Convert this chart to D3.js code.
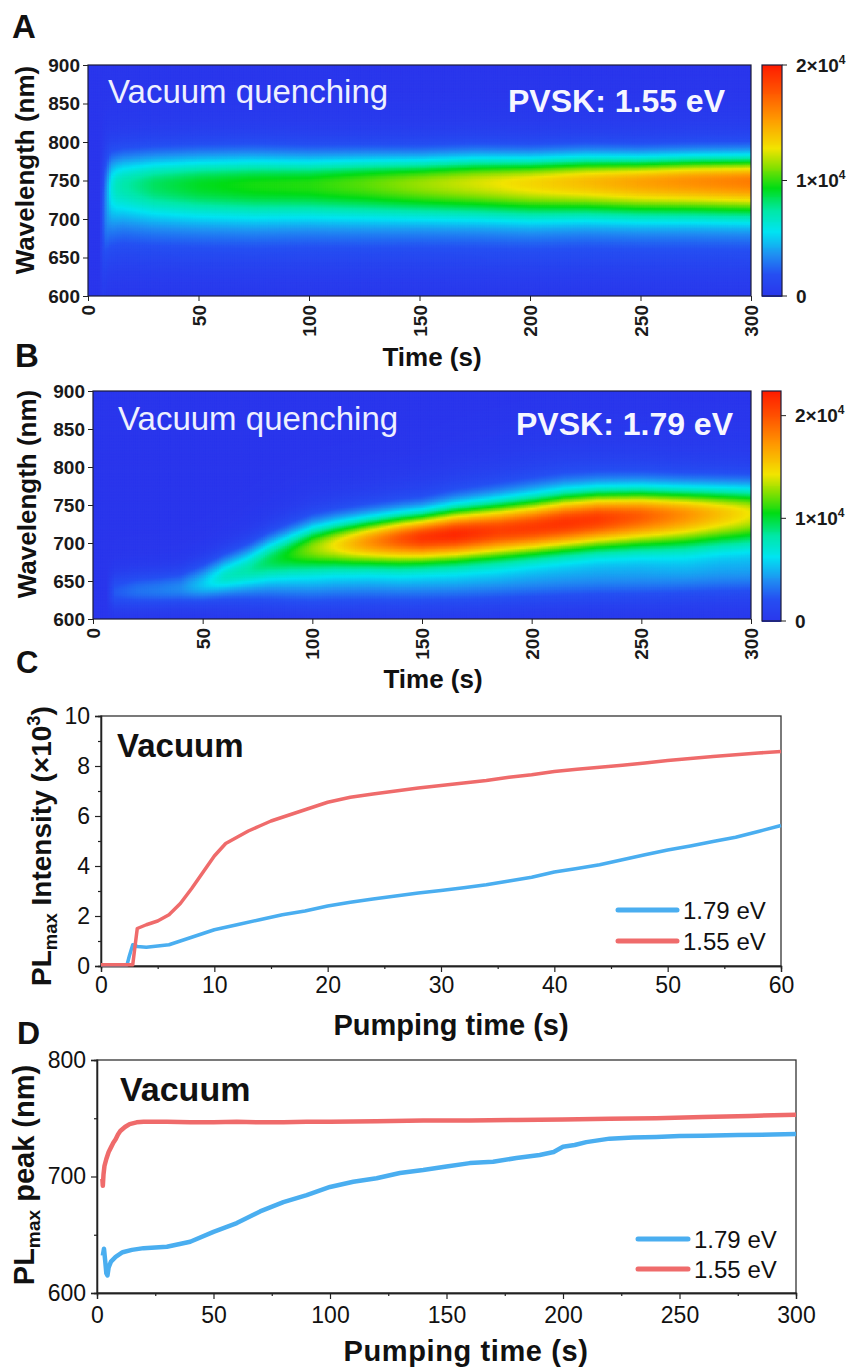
<!DOCTYPE html>
<html><head><meta charset="utf-8">
<script src="https://cdn.jsdelivr.net/npm/d3@7/dist/d3.min.js"></script>
<style>body{margin:0;background:#fff}svg{display:block}</style>
</head><body><svg id="c" width="852" height="1368"></svg>
<script>
// ---------- colour map ----------
const cmapStops  = [0, 0.10, 0.18, 0.28, 0.37, 0.47, 0.56, 0.64, 0.77, 0.88, 1];
const cmapColors = ["#2a36ec","#2550f2","#1f8ff2","#00e4f2","#00e8a8","#00dc14","#86e000","#f2e400","#ff9800","#ff5800","#ff1c00"];
const timeTicks = [0, 50, 100, 150, 200, 250, 300];
const wlTicks = [600, 650, 700, 750, 800, 850, 900];

// ---------- panel A (PVSK 1.55 eV) spectral band parameters vs time ----------
const tA      = [0, 5, 6.5, 8, 9.5, 11, 13, 16, 20, 25, 30, 50, 75, 100, 125, 150, 175, 200, 225, 250, 275, 300];
const peakA   = [720, 720, 725, 735, 742, 744, 745, 746, 746, 746, 746, 746, 746, 746, 747, 747, 748, 748, 749, 749, 750, 750];
const ampA    = [0, 0, 1500, 3200, 4800, 6000, 6700, 7100, 7400, 7800, 8200, 9000, 9500, 9700, 10400, 11300, 12200, 13100, 14000, 14900, 15600, 16200];
const sigLoA  = [70, 70, 70, 55, 42, 38, 36, 35, 35, 35, 35, 35, 35, 34, 34, 33, 33, 33, 32, 32, 32, 32];
const sigHiA  = [40, 40, 40, 34, 30, 28, 27, 27, 27, 27, 27, 27, 27, 26, 25, 24, 24, 23, 23, 22, 22, 22];
const glowNmA = [680, 680, 680, 680, 680, 680, 680, 680, 680, 680, 680, 680, 680, 680, 680, 680, 680, 680, 680, 680, 680, 680];
const glowAmpA= [0, 0, 400, 700, 900, 1000, 1000, 1000, 1000, 1000, 1000, 1000, 1000, 1000, 1000, 1000, 1000, 1000, 1000, 1000, 1000, 1000];

// ---------- panel B (PVSK 1.79 eV) ----------
const tB      = [0, 6, 10, 20, 30, 40, 50, 60, 70, 80, 90, 100, 110, 125, 140, 150, 165, 185, 200, 215, 230, 250, 270, 285, 300];
const peakB   = [635, 635, 636, 638, 639, 641, 647, 658, 668, 679, 687, 694, 698, 702, 706, 708, 712, 717, 721, 727, 732, 736, 738, 739, 740];
const ampB    = [0, 0, 2500, 3200, 3500, 3900, 4800, 6200, 7000, 8800, 10500, 12500, 14300, 17200, 19800, 21200, 21800, 20800, 21000, 21300, 21000, 19500, 17500, 15800, 14200];
const sigLoB  = [14, 14, 14, 14, 14, 14, 15, 16, 18, 20, 22, 24, 24, 24, 25, 25, 26, 27, 27, 28, 29, 31, 33, 33, 34];
const sigHiB  = [16, 16, 16, 16, 16, 16, 17, 18, 19, 20, 21, 22, 22, 22, 22, 22, 24, 26, 27, 27, 26, 25, 24, 24, 24];
const glowNmB = [645, 645, 645, 645, 645, 645, 645, 645, 645, 645, 645, 645, 646, 647, 648, 648, 649, 651, 652, 654, 655, 656, 658, 659, 660];
const glowAmpB= [0, 0, 0, 0, 0, 0, 700, 1500, 2000, 2300, 2500, 2500, 2500, 2500, 2500, 2500, 2500, 2500, 2500, 2500, 2500, 2500, 2500, 2500, 2500];

// ---------- panel C: PLmax intensity (x10^3) vs pumping time (s) ----------
const cBlue = [[0,0.05],[2.3,0.05],[2.5,0.4],[2.8,0.85],[3.2,0.78],[4,0.75],[5,0.8],[6,0.85],[7,1.0],[8,1.15],[9,1.3],[10,1.45],[12,1.65],[14,1.85],[16,2.05],[18,2.2],[20,2.4],[22,2.55],[24,2.68],[26,2.8],[28,2.92],[30,3.02],[32,3.13],[34,3.25],[36,3.4],[38,3.55],[40,3.76],[42,3.9],[44,4.05],[46,4.25],[48,4.45],[50,4.64],[52,4.8],[54,4.98],[56,5.15],[58,5.38],[60,5.62]];
const cRed  = [[0,0.05],[2.8,0.05],[2.95,0.6],[3.2,1.5],[4,1.65],[5,1.8],[6,2.05],[7,2.5],[8,3.1],[9,3.75],[10,4.4],[11,4.9],[12,5.15],[13,5.4],[14,5.6],[15,5.8],[16,5.95],[17,6.1],[18,6.25],[19,6.4],[20,6.55],[22,6.75],[24,6.88],[26,7.0],[28,7.12],[30,7.22],[32,7.32],[34,7.42],[36,7.55],[38,7.65],[40,7.78],[42,7.87],[44,7.95],[46,8.03],[48,8.12],[50,8.22],[52,8.3],[54,8.38],[56,8.45],[58,8.52],[60,8.58]];

// ---------- panel D: PLmax peak (nm) vs pumping time (s) ----------
const dBlue = [[2.5,632],[3,638],[3.5,628],[4,617],[4.5,615],[5,622],[6,627],[8,631],[11,635],[15,637],[20,638.5],[30,639.7],[40,644],[50,652.5],[60,660],[70,670],[80,678],[90,684],[100,691],[110,695.5],[120,698.5],[130,703],[140,705.5],[150,708.5],[160,711.5],[170,712.7],[180,715.8],[190,718.5],[196,721],[200,725.5],[205,727],[210,729.5],[220,732.5],[230,733.5],[240,734],[250,734.7],[260,735],[275,735.6],[290,736],[300,736.5]];
const dRed  = [[2.3,698],[2.5,692],[2.8,702],[3.2,709],[4,715],[5,721],[6,725],[7,729],[8,732],[9,736],[10,739],[12,742.5],[14,745],[17,746.5],[20,747],[30,747],[40,746.5],[50,746.5],[60,747],[70,746.5],[80,746.5],[90,747],[100,747],[120,747.5],[140,748],[160,748],[180,748.5],[200,749],[220,749.5],[240,750],[260,751],[280,752],[300,753]];

const legendLabels = ["1.79 eV", "1.55 eV"];
const lineColors = ["#4aaef0", "#ef6b6b"];

const FONT = '"Liberation Sans", Arial, Helvetica, sans-serif';
const svg = d3.select("#c").attr("font-family", FONT);

function heatPanel(c) {
  const xs = d3.scaleLinear().domain([0, 300]).range([c.x0, c.x1]);
  const ys = d3.scaleLinear().domain([600, 900]).range([c.y1, c.y0]);
  const color = d3.scaleLinear().domain(cmapStops.map(s => s * c.cbMax)).range(cmapColors).clamp(true);
  const f = arr => d3.scaleLinear().domain(c.T).range(arr).clamp(true);
  const fPeak = f(c.peak), fAmp = f(c.amp), fLo = f(c.sLo), fHi = f(c.sHi), fGn = f(c.gNm), fGa = f(c.gAmp);
  const cells = [];
  const dt = 1, dl = 2;
  for (const t of d3.range(0, 300.5, dt)) {
    const pk = fPeak(t), a = fAmp(t), lo = fLo(t), hi = fHi(t), gn = fGn(t), ga = fGa(t);
    for (const lam of d3.range(600, 901, dl)) {
      const d = lam - pk, s = d < 0 ? lo : hi, s2 = 2.2 * s;
      let v = a * (0.88 * Math.exp(-d * d / (2 * s * s)) + 0.12 * Math.exp(-d * d / (2 * s2 * s2)));
      const gd = lam - gn;
      v += ga * Math.exp(-gd * gd / (2 * c.gSig * c.gSig));
      cells.push({t, lam, v});
    }
  }
  const clipId = "clip" + c.id;
  svg.append("clipPath").attr("id", clipId).append("rect")
    .attr("x", c.x0).attr("y", c.y0).attr("width", c.x1 - c.x0).attr("height", c.y1 - c.y0);
  const g = svg.append("g").attr("clip-path", `url(#${clipId})`);
  g.append("rect").attr("x", c.x0).attr("y", c.y0).attr("width", c.x1 - c.x0).attr("height", c.y1 - c.y0).attr("fill", cmapColors[0]);
  g.selectAll("rect.cell").data(cells).join("rect").attr("class", "cell")
    .attr("x", d => xs(d.t - dt / 2)).attr("width", d => xs(d.t + dt / 2) - xs(d.t - dt / 2) + 0.7)
    .attr("y", d => ys(d.lam + dl / 2)).attr("height", d => ys(d.lam - dl / 2) - ys(d.lam + dl / 2) + 0.7)
    .attr("fill", d => color(d.v));
  svg.append("rect").attr("x", c.x0).attr("y", c.y0).attr("width", c.x1 - c.x0).attr("height", c.y1 - c.y0)
    .attr("fill", "none").attr("stroke", "#1b1b3a").attr("stroke-width", 1.2);

  // axes
  const ya = svg.append("g").attr("transform", `translate(${c.x0},0)`)
    .call(d3.axisLeft(ys).tickValues(wlTicks).tickSize(5).tickPadding(3));
  ya.select(".domain").remove();
  ya.attr("font-family", FONT).attr("font-size", 19).attr("font-weight", "bold");
  ya.selectAll("line").attr("stroke", "#222");
  ya.selectAll("text").attr("fill", "#1a1a1a");
  const xa = svg.append("g").attr("transform", `translate(0,${c.y1})`)
    .call(d3.axisBottom(xs).tickValues(timeTicks).tickSize(5));
  xa.select(".domain").remove();
  xa.attr("font-family", FONT).attr("font-size", 19).attr("font-weight", "bold");
  xa.selectAll("line").attr("stroke", "#222");
  xa.selectAll("text").attr("fill", "#1a1a1a").attr("transform", "rotate(-90)")
    .attr("x", -9).attr("y", 0).attr("dy", "0.35em").attr("text-anchor", "end");

  svg.append("text").attr("x", c.titleX).attr("y", c.titleY).attr("text-anchor", "middle")
    .attr("font-size", 26).attr("font-weight", "bold").attr("fill", "#111").text("Time (s)");
  svg.append("text").attr("transform", `translate(${c.wlX},${c.wlY}) rotate(-90)`).attr("text-anchor", "middle")
    .attr("font-size", 26).attr("font-weight", "bold").attr("fill", "#111").text("Wavelength (nm)");

  // colour bar
  const cs = d3.scaleLinear().domain([0, c.cbMax]).range([c.cbY1, c.cbY0]);
  const step = c.cbMax / 240;
  svg.append("g").attr("shape-rendering", "crispEdges").selectAll("rect").data(d3.range(0, c.cbMax, step)).join("rect")
    .attr("x", c.cbX0).attr("width", c.cbX1 - c.cbX0)
    .attr("y", d => cs(d + step)).attr("height", d => cs(d) - cs(d + step) + 0.6)
    .attr("fill", d => color(d + step / 2));
  svg.append("rect").attr("x", c.cbX0).attr("y", c.cbY0).attr("width", c.cbX1 - c.cbX0).attr("height", c.cbY1 - c.cbY0)
    .attr("fill", "none").attr("stroke", "#1b1b3a").attr("stroke-width", 1.2);
  const tg = svg.append("g").selectAll("g").data([0, 10000, 20000]).join("g")
    .attr("transform", d => `translate(${c.cbX1},${cs(d)})`);
  tg.append("line").attr("x1", 0).attr("x2", 5).attr("stroke", "#222");
  const tl = tg.append("text").attr("x", 14).attr("dy", "0.36em").attr("font-size", 19).attr("font-weight", "bold").attr("fill", "#1a1a1a");
  tl.each(function(d) {
    const s = d3.select(this);
    if (d === 0) { s.text("0"); return; }
    s.append("tspan").text(`${d / 10000}×10`);
    s.append("tspan").attr("font-size", 12).attr("dy", -8).text("4");
  });

  // in-plot labels
  svg.append("text").attr("x", c.vqX).attr("y", c.vqY).attr("font-size", 33).attr("fill", "#eef0ff").text("Vacuum quenching");
  svg.append("text").attr("x", c.pvX).attr("y", c.pvY).attr("text-anchor", "end").attr("font-size", 32)
    .attr("font-weight", "bold").attr("fill", "#f6f6ff").text(c.pvText);
}

heatPanel({id: "A", x0: 88, x1: 751, y0: 65, y1: 296, cbX0: 762, cbX1: 782, cbY0: 65, cbY1: 296, cbMax: 20000,
  T: tA, peak: peakA, amp: ampA, sLo: sigLoA, sHi: sigHiA, gNm: glowNmA, gAmp: glowAmpA, gSig: 35,
  titleX: 432, titleY: 366, wlX: 34, wlY: 170, vqX: 108, vqY: 103, pvX: 725, pvY: 112, pvText: "PVSK: 1.55 eV"});
heatPanel({id: "B", x0: 93, x1: 751, y0: 391, y1: 619, cbX0: 762, cbX1: 781, cbY0: 391, cbY1: 621, cbMax: 22400,
  T: tB, peak: peakB, amp: ampB, sLo: sigLoB, sHi: sigHiB, gNm: glowNmB, gAmp: glowAmpB, gSig: 20,
  titleX: 433, titleY: 688, wlX: 36, wlY: 494, vqX: 118, vqY: 430, pvX: 733, pvY: 435, pvText: "PVSK: 1.79 eV"});

// panel letters
[["A", 12, 38, 33], ["B", 15, 367, 33], ["C", 16, 673, 31], ["D", 17, 1044, 32]].forEach(([t, x, y, s]) =>
  svg.append("text").attr("x", x).attr("y", y).attr("font-size", s).attr("font-weight", "bold").attr("fill", "#111").text(t));

function linePanel(c) {
  const xs = d3.scaleLinear().domain(c.xDom).range([c.x0, c.x1]);
  const ys = d3.scaleLinear().domain(c.yDom).range([c.y1, c.y0]);
  svg.append("rect").attr("x", c.x0).attr("y", c.y0).attr("width", c.x1 - c.x0).attr("height", c.y1 - c.y0)
    .attr("fill", "none").attr("stroke", "#333").attr("stroke-width", 1.3);
  const style = (g) => {
    g.select(".domain").attr("stroke", "#222").attr("stroke-width", 1.3);
    g.selectAll("line").attr("stroke", "#222").attr("stroke-width", 1.2);
    g.attr("font-family", FONT).attr("font-size", 23);
    g.selectAll("text").attr("fill", "#111");
  };
  style(svg.append("g").attr("transform", `translate(${c.x0},0)`).call(d3.axisLeft(ys).tickValues(c.yMajor).tickSize(6).tickPadding(5)));
  style(svg.append("g").attr("transform", `translate(${c.x0},0)`).call(d3.axisLeft(ys).tickValues(c.yMinor).tickSize(3).tickFormat("")));
  style(svg.append("g").attr("transform", `translate(0,${c.y1})`).call(d3.axisBottom(xs).tickValues(c.xMajor).tickSize(6).tickPadding(c.xPad)));
  style(svg.append("g").attr("transform", `translate(0,${c.y1})`).call(d3.axisBottom(xs).tickValues(c.xMinor).tickSize(3).tickFormat("")));

  const line = d3.line().x(d => xs(d[0])).y(d => ys(d[1]));
  [c.blue, c.red].forEach((s, i) => svg.append("path").datum(s).attr("d", line).attr("fill", "none")
    .attr("stroke", lineColors[i]).attr("stroke-width", c.lw).attr("stroke-linejoin", "round"));

  svg.append("text").attr("x", c.vacX).attr("y", c.vacY).attr("font-size", c.vacS).attr("font-weight", "bold").attr("fill", "#111").text("Vacuum");
  legendLabels.forEach((lab, i) => {
    const y = c.legY[i];
    svg.append("line").attr("x1", c.legX0).attr("x2", c.legX1).attr("y1", y).attr("y2", y)
      .attr("stroke", lineColors[i]).attr("stroke-width", 5).attr("stroke-linecap", "round");
    svg.append("text").attr("x", c.legX1 + 6).attr("y", y + 8.5).attr("font-size", 24).attr("fill", "#111").text(lab);
  });
  svg.append("text").attr("x", c.tX).attr("y", c.tY).attr("text-anchor", "middle").attr("font-size", 29)
    .attr("font-weight", "bold").attr("letter-spacing", c.tLs).attr("fill", "#111").text("Pumping time (s)");
  const yt = svg.append("text").attr("transform", `translate(${c.ytX},${c.ytY}) rotate(-90)`).attr("text-anchor", "middle")
    .attr("font-size", c.ytS).attr("font-weight", "bold").attr("fill", "#111");
  yt.append("tspan").text("PL");
  yt.append("tspan").attr("font-size", c.ytS * 0.66).attr("dy", 6).text("max");
  if (c.intensity) {
    yt.append("tspan").attr("dy", -6).text(" Intensity (×10");
    yt.append("tspan").attr("font-size", c.ytS * 0.66).attr("dy", -11).text("3");
    yt.append("tspan").attr("dy", 11).text(")");
  } else {
    yt.append("tspan").attr("dy", -6).text(" peak (nm)");
  }
}

linePanel({x0: 101, x1: 781, y0: 716, y1: 966, xDom: [0, 60], yDom: [0, 10],
  yMajor: [0, 2, 4, 6, 8, 10], yMinor: [1, 3, 5, 7, 9], xMajor: [0, 10, 20, 30, 40, 50, 60], xMinor: [5, 15, 25, 35, 45, 55], xPad: 5,
  blue: cBlue, red: cRed, lw: 3.5, vacX: 117, vacY: 757, vacS: 33,
  legX0: 618, legX1: 677, legY: [910, 941], tX: 451, tY: 1035, tLs: 0, ytX: 51, ytY: 846, ytS: 28, intensity: true});
linePanel({x0: 97, x1: 796, y0: 1060, y1: 1293, xDom: [0, 300], yDom: [600, 800],
  yMajor: [600, 700, 800], yMinor: [650, 750], xMajor: [0, 50, 100, 150, 200, 250, 300], xMinor: [25, 75, 125, 175, 225, 275], xPad: 8,
  blue: dBlue, red: dRed, lw: 4.5, vacX: 120, vacY: 1101, vacS: 34,
  legX0: 638, legX1: 688, legY: [1239, 1269], tX: 466, tY: 1361, tLs: 0.6, ytX: 34, ytY: 1175, ytS: 29, intensity: false});
</script></body></html>
